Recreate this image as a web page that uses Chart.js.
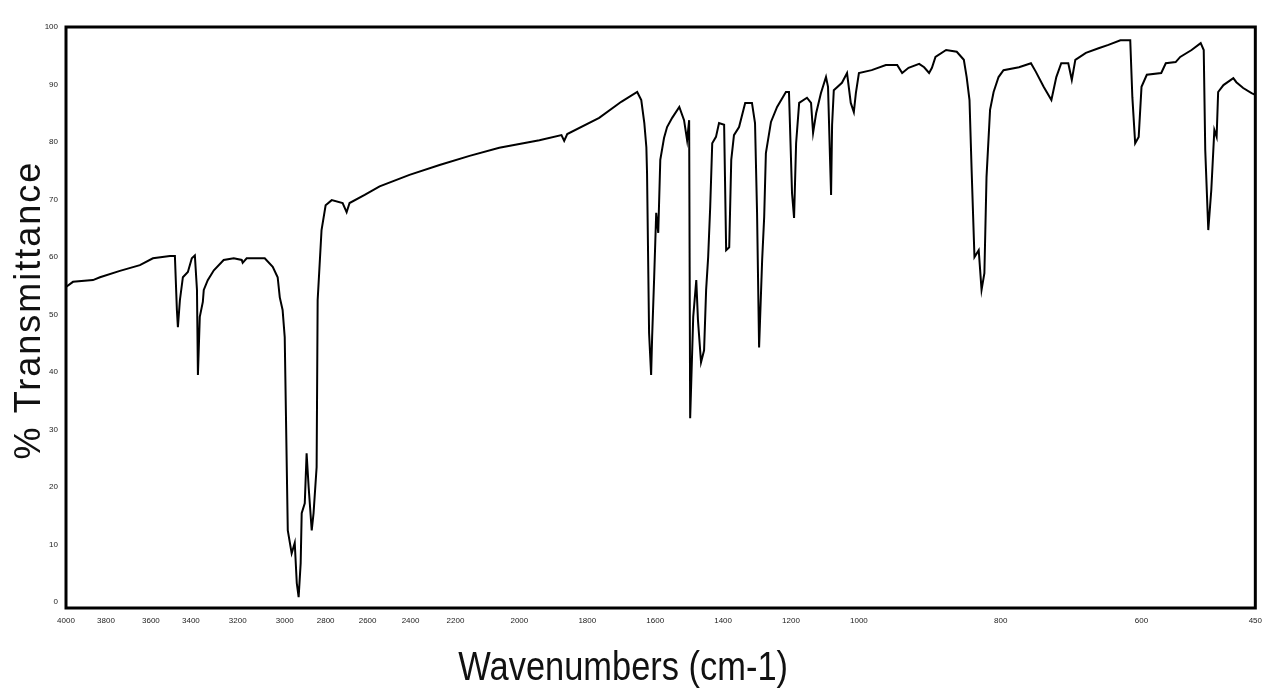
<!DOCTYPE html>
<html>
<head>
<meta charset="utf-8">
<title>% Transmittance</title>
<script src="https://cdn.jsdelivr.net/npm/chart.js@4.4.1/dist/chart.umd.min.js"></script>
<style>
html,body{margin:0;padding:0;background:#fff;}
#wrap{position:relative;width:1270px;height:691px;}
</style>
</head>
<body>
<div id="wrap"><canvas id="ir"></canvas></div>
<script>
'use strict';

/* ── 1. DATA ── */
const wavenumbers=[
  4000,3965,3865,3830,3738,3649,3590,3505,3480,3470,
  3465,3455,3440,3415,3396,3383,3374,3370,3362,3349,
  3345,3328,3302,3260,3217,3183,3179,3162,3085,3051,
  3030,3021,3009,3000,2990,2985,2966,2951,2941,2932,
  2922,2917,2902,2893,2883,2868,2859,2844,2839,2820,
  2800,2771,2719,2700,2686,2614,2544,2405,2271,2156,
  2063,1941,1876,1868,1859,1765,1700,1653,1641,1632,
  1626,1624,1618,1612,1609,1603,1597,1591,1585,1574,
  1565,1550,1529,1515,1506,1500,1497,1488,1479,1474,
  1465,1456,1450,1444,1438,1432,1421,1412,1397,1391,
  1382,1376,1368,1353,1335,1315,1306,1300,1294,1285,
  1279,1274,1259,1241,1215,1206,1197,1191,1185,1176,
  1153,1141,1135,1126,1112,1097,1091,1085,1082,1079,
  1074,1050,1035,1024,1015,1009,1000,982,962,946,
  939,930,915,908,901,897,892,877,862,852,
  848,844,841,837,831,827,823,820,815,810,
  803,796,774,757,750,739,728,721,714,704,
  699,694,679,661,647,630,616,613,609,604,
  600,593,574,568,555,549,534,522,518,516,
  512,508,504,501,499,492,479,475,466,455,
  450
];
const transmittance=[
  54.8,55.7,56.0,56.5,57.6,58.6,59.8,60.2,60.2,50.8,
  47.8,52.5,56.5,57.4,59.8,60.3,54.3,39.5,49.6,52.2,
  54.3,56.0,57.7,59.5,59.8,59.5,59.0,59.8,59.8,58.3,
  56.5,53.0,50.8,46.1,23.5,12.5,8.5,10.3,3.3,0.9,
  6.8,15.5,17.2,25.9,20.0,12.5,15.5,23.5,52.5,64.7,
  69.0,69.9,69.4,67.8,69.4,70.8,72.3,74.3,76.0,77.6,
  79.0,80.3,81.2,80.2,81.4,84.2,87.0,88.7,87.3,83.3,
  79.1,74.6,46.8,39.5,46.1,56.5,67.7,64.2,76.9,80.7,
  82.6,84.2,86.1,83.8,80.3,83.8,32.0,49.6,56.0,49.0,
  41.7,43.8,54.3,60.0,68.7,79.8,80.9,83.3,83.0,61.2,
  61.7,76.9,81.2,82.6,86.8,86.8,83.3,67.7,44.3,59.5,
  67.0,78.1,83.5,86.1,88.7,88.7,71.1,66.8,79.8,86.8,
  87.7,86.8,81.6,85.0,88.5,91.3,89.6,76.9,70.8,83.0,
  89.0,90.3,92.0,86.8,85.2,88.5,92.0,92.5,93.4,93.4,
  92.0,92.9,93.6,93.0,92.0,92.9,94.8,96.0,95.7,94.3,
  91.3,87.3,75.1,60.0,61.2,54.3,57.2,73.9,85.6,88.7,
  91.3,92.5,93.0,93.7,92.2,89.6,87.3,91.3,93.7,93.7,
  90.8,94.3,95.5,96.3,96.9,97.7,97.7,87.8,79.8,80.9,
  89.6,91.7,92.0,93.7,93.9,94.8,96.0,97.2,96.0,78.6,
  64.7,71.7,82.1,80.9,88.7,89.9,91.1,90.4,89.4,88.5,
  88.2
];
const xTicks=[4000,3800,3600,3400,3200,3000,2800,2600,2400,2200,2000,1800,1600,1400,1200,1000,800,600,450];
const yTicks=[0,10,20,30,40,50,60,70,80,90,100];
const xTitle='Wavenumbers (cm-1)';
const yTitle='% Transmittance';

/* ── 2. AXIS LAYOUT — where each x tick sits along the axis (0 left … 1 right) ── */
const X_TICK_POS=[0,.0336,.0714,.1050,.1444,.1839,.2183,.2536,.2897,.3275,.3812,.4383,.4954,.5525,.6096,.6667,.7859,.9043,1];

const SANS="'Liberation Sans',Arial,sans-serif";

/* ── 3. PIECEWISE WAVENUMBER SCALE (old spectrometer plots change scale along x) ── */
class WavenumberScale extends Chart.LinearScale{
  buildTicks(){return xTicks.map(v=>({value:v}));}
  _frac(v){
    for(let i=0;i<xTicks.length-1;i++){
      const a=xTicks[i],b=xTicks[i+1];
      if(v<=a&&v>=b)return X_TICK_POS[i]+(a-v)/(a-b)*(X_TICK_POS[i+1]-X_TICK_POS[i]);
    }
    return v>xTicks[0]?0:1;
  }
  getPixelForValue(v){return this.left+this._frac(v)*this.width;}
  getValueForPixel(p){
    const f=(p-this.left)/this.width;
    for(let i=0;i<X_TICK_POS.length-1;i++){
      const a=X_TICK_POS[i],b=X_TICK_POS[i+1];
      if(f>=a&&f<=b)return xTicks[i]-(f-a)/(b-a)*(xTicks[i]-xTicks[i+1]);
    }
    return f<0?xTicks[0]:xTicks[xTicks.length-1];
  }
}
WavenumberScale.id='wavenumber';
WavenumberScale.defaults=Chart.LinearScale.defaults;
Chart.register(WavenumberScale);

/* ── 4. FRAME + AXIS TITLES (narrow, spaced lettering like the scan) ── */
const frame={
  id:'frame',
  afterDatasetsDraw(c){
    const {ctx,chartArea:a}=c;
    ctx.save();
    ctx.strokeStyle='#000';
    ctx.lineWidth=3;
    ctx.strokeRect(a.left,a.top,a.right-a.left,a.bottom-a.top);
    ctx.restore();
  }
};
const axisTitles={
  id:'axisTitles',
  afterDraw(c){
    const {ctx,chartArea:a}=c;
    ctx.save();
    ctx.fillStyle='#111';
    ctx.textAlign='center';
    ctx.textBaseline='alphabetic';
    // x title: condensed
    ctx.font='41px '+SANS;
    ctx.translate(a.left+a.width*.4685,680);
    ctx.scale(.84,1);
    ctx.fillText(xTitle,0,0);
    ctx.restore();

    ctx.save();
    ctx.fillStyle='#111';
    ctx.textAlign='center';
    ctx.textBaseline='alphabetic';
    ctx.font='36px '+SANS;
    if('letterSpacing' in ctx)ctx.letterSpacing='2px';
    ctx.translate(40,310);
    ctx.rotate(-Math.PI/2);
    ctx.fillText(yTitle,0,0);
    ctx.restore();
  }
};

/* ── 5. CHART ── */
new Chart(document.getElementById('ir'),{
  type:'line',
  data:{
    datasets:[{
      data:wavenumbers.map((w,i)=>({x:w,y:transmittance[i]})),
      borderColor:'#000',
      borderWidth:2,
      pointRadius:0,
      tension:0,
      fill:false
    }]
  },
  options:{
    responsive:true,maintainAspectRatio:false,
    animation:false,
    devicePixelRatio:1,
    layout:{padding:{top:27,right:13,left:0,bottom:0}},
    plugins:{legend:{display:false},tooltip:{enabled:false}},
    scales:{
      x:{
        type:'wavenumber',min:450,max:4000,
        afterFit:s=>{s.height=83;},
        grid:{display:false,drawTicks:false},
        border:{display:false},
        ticks:{autoSkip:false,maxRotation:0,minRotation:0,padding:8,color:'#222',
          font:{family:SANS,size:8},callback:v=>String(v)},
        title:{display:false}
      },
      y:{
        min:-1,max:100,
        afterBuildTicks:s=>{s.ticks=yTicks.map(v=>({value:v}));},
        afterFit:s=>{s.width=66;},
        grid:{display:false,drawTicks:false},
        border:{display:false},
        ticks:{padding:8,color:'#222',font:{family:SANS,size:8}},
        title:{display:false}
      }
    }
  },
  plugins:[frame,axisTitles]
});
</script>
</body>
</html>
